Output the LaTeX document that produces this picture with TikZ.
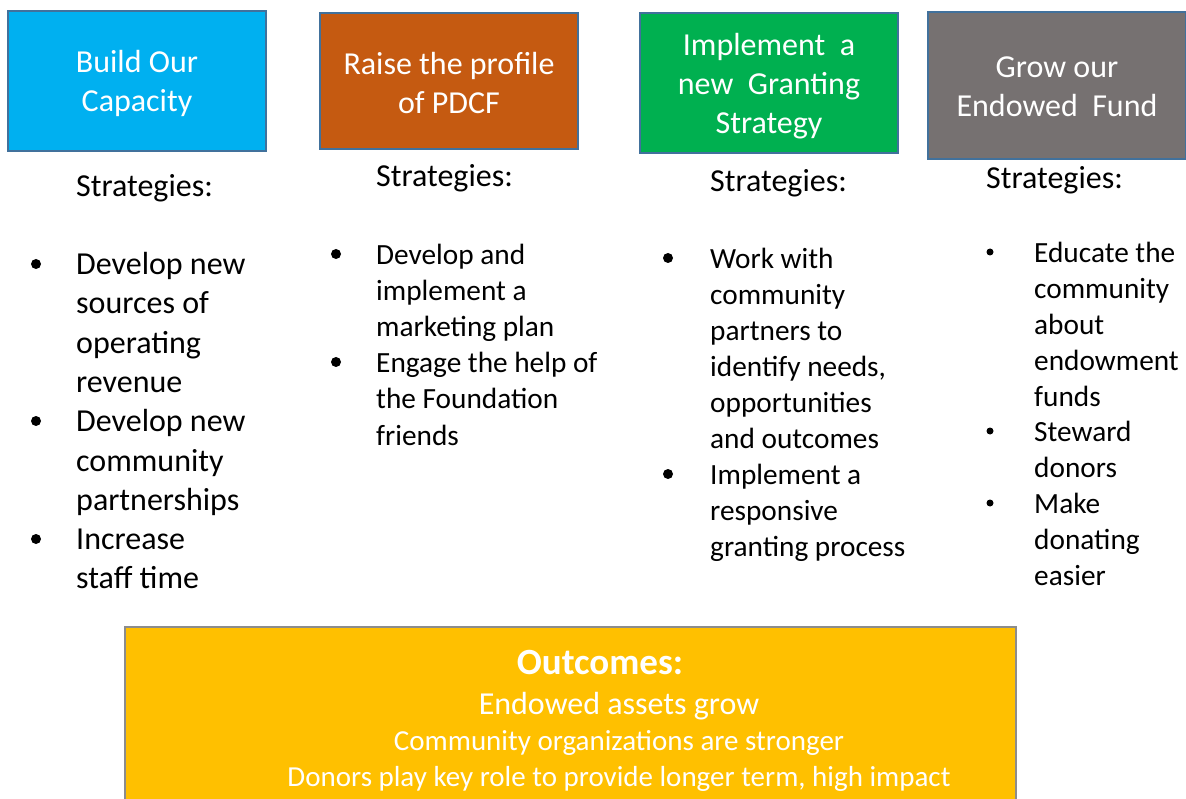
\documentclass[tikz,border=0pt]{standalone}
\usepackage{fontspec}
\setmainfont{Carlito}
\definecolor{capblue}{HTML}{00B0F0}
\definecolor{raiseor}{HTML}{C55A11}
\definecolor{grantgr}{HTML}{00B050}
\definecolor{fundgray}{HTML}{767171}
\definecolor{outgold}{HTML}{FFC000}
\definecolor{bordc}{HTML}{41719C}
\definecolor{outbord}{HTML}{8C8C8C}
\newcommand{\bigf}{\fontsize{32}{39}\selectfont}
\newcommand{\midf}{\fontsize{29.3}{36}\selectfont}
\tikzset{
  hdr/.style={draw=bordc, line width=2pt, text=white, font=\bigf, align=center, inner sep=0pt},
  tb/.style={anchor=base west, inner sep=0pt, font=\bigf},
  tm/.style={anchor=base west, inner sep=0pt, font=\midf},
  bul/.style={circle, fill=black, inner sep=0pt, minimum size=10pt},
  sbul/.style={circle, fill=black, inner sep=0pt, minimum size=7pt},
  outt/.style={anchor=base, inner sep=0pt, text=white},
}
\begin{document}
\begin{tikzpicture}[x=1pt,y=-1pt]
\clip (0,0) rectangle (1186,799);
\fill[white] (0,0) rectangle (1186,799);
% header boxes
\node[hdr, fill=capblue, minimum width=258pt, minimum height=140pt] (h1) at (137,81) {};
\node[text=white, font=\bigf, align=center, inner sep=0pt] (t1) at (137,83.5) {Build Our\\Capacity};
\node[hdr, fill=raiseor, minimum width=258pt, minimum height=136pt] (h2) at (449,81) {};
\node[text=white, font=\bigf, align=center, inner sep=0pt] (t2) at (449,83) {Raise the profile\\of PDCF};
\node[hdr, fill=grantgr, minimum width=258pt, minimum height=140pt] (h3) at (769,83) {};
\node[text=white, font=\bigf, align=center, inner sep=0pt] (t3) at (769,86) {Implement~ a\\new~ Granting\\Strategy};
\node[hdr, fill=fundgray, minimum width=258pt, minimum height=147pt] (h4) at (1057,85.5) {};
\node[text=white, font=\bigf, align=center, inner sep=0pt] (t4) at (1057,87) {Grow our\\Endowed~ Fund};
% strategies headings
\node[tb] (s1) at (76,197) {Strategies:};
\node[tb] (s2) at (376,187) {Strategies:};
\node[tb] (s3) at (710,192) {Strategies:};
\node[tb] (s4) at (986,189) {Strategies:};
% column 1
\foreach \t [count=\i] in {Develop new, sources of, operating, revenue, Develop new, community, partnerships, Increase, staff time}
  \node[tb] (a\i) at (76,{274.5+39.3*(\i-1)}) {\t};
\node[bul] (ab1) at (36,264) {};
\node[bul] (ab2) at (36,421) {};
\node[bul] (ab3) at (36,539) {};
% column 2
\foreach \t [count=\i] in {Develop and, implement a, marketing plan, Engage the help of, the Foundation, friends}
  \node[tm] (b\i) at (376,{265+36*(\i-1)}) {\t};
\node[bul] (bb1) at (336,254) {};
\node[bul] (bb2) at (336,362) {};
% column 3
\foreach \t [count=\i] in {Work with, community, partners to, {identify needs,}, opportunities, and outcomes, Implement a, responsive, granting process}
  \node[tm] (c\i) at (710,{269+35.9*(\i-1)}) {\t};
\node[bul] (cb1) at (668,258) {};
\node[bul] (cb2) at (668,474) {};
% column 4
\foreach \t [count=\i] in {Educate the, community, about, endowment, funds, Steward, donors, Make, donating, easier}
  \node[tm] (d\i) at (1034,{263+35.8*(\i-1)}) {\t};
\node[sbul] (db1) at (990,252) {};
\node[sbul] (db2) at (990,431) {};
\node[sbul] (db3) at (990,503) {};
% outcomes
\draw[draw=outbord, line width=1.5pt, fill=outgold] (125,627) rectangle (1016,830);
\node[outt, font=\fontsize{37}{44}\selectfont\bfseries] (o0) at (600,674) {Outcomes:};
\node[outt, font=\bigf] (o1) at (619,714) {Endowed assets grow};
\node[outt, font=\fontsize{29}{36}\selectfont] (o2) at (619,750) {Community organizations are stronger};
\node[outt, font=\fontsize{29}{36}\selectfont] (o3) at (619,786) {Donors play key role to provide longer term, high impact};
\end{tikzpicture}
\end{document}
